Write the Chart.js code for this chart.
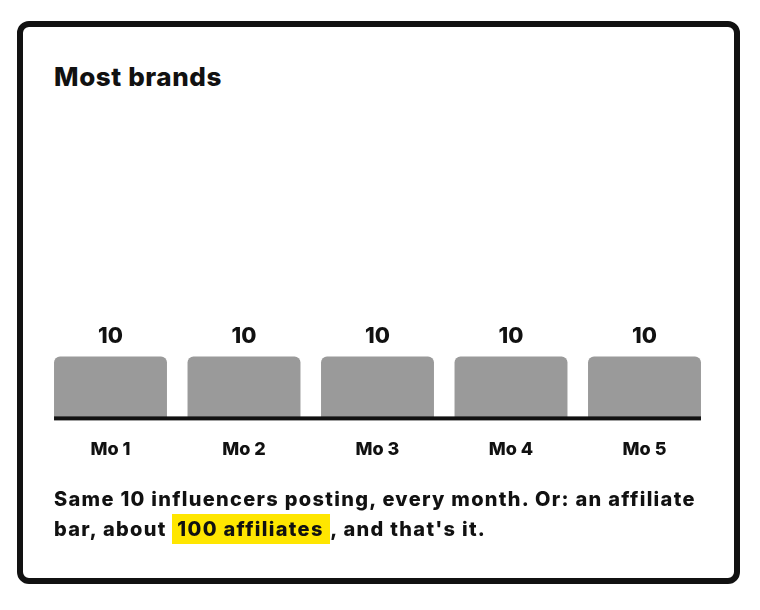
<!DOCTYPE html>
<html>
<head>
<meta charset="utf-8">
<script src="https://cdn.jsdelivr.net/npm/chart.js@4.4.0/dist/chart.umd.min.js"></script>
<style>
  html, body { margin: 0; padding: 0; background: #fff; }
  body { width: 760px; height: 610px; position: relative; overflow: hidden;
    font-family: "Inter", "Noto Sans", sans-serif; color: #111; }
  .card { position: absolute; left: 17px; top: 21px; width: 723px; height: 563px;
    box-sizing: border-box; border: 6px solid #111; border-radius: 12px; }
  .title { position: absolute; left: 54px; top: 62px; margin: 0;
    font-size: 26px; font-weight: 800; line-height: 30px; letter-spacing: 0.6px; }
  .chart-box { position: absolute; left: 0; top: 87px; width: 760px; height: 404px; }
  .caption { position: absolute; left: 54px; top: 484px; margin: 0; white-space: nowrap;
    font-size: 20px; font-weight: 800; line-height: 30px; letter-spacing: 1.3px; }
  .hl { background: #ffe600; padding: 3px 1px 3px 5px; }
</style>
</head>
<body>
<div class="card"></div>
<h2 class="title">Most brands</h2>
<div class="chart-box"><canvas id="chart-bar"></canvas></div>
<p class="caption">Same 10 influencers posting, every month. Or: an affiliate<br>bar, about <span class="hl">100 affiliates </span>, and that's it.</p>
<script>
  const months = ["Mo 1", "Mo 2", "Mo 3", "Mo 4", "Mo 5"];
  const influencers = [10, 10, 10, 10, 10];
  const yMax = 50;

  const FONT = "Inter, 'Noto Sans', sans-serif";

  // value labels above bars + short baseline under the bars
  const barDecor = {
    id: "barDecor",
    afterDatasetsDraw(chart) {
      const ctx = chart.ctx;
      const bars = chart.getDatasetMeta(0).data;
      const values = chart.data.datasets[0].data;
      ctx.save();
      ctx.fillStyle = "#111";
      ctx.font = "800 22px " + FONT;
      ctx.textAlign = "center";
      ctx.textBaseline = "bottom";
      bars.forEach((bar, i) => {
        ctx.fillText(String(values[i]), bar.x, bar.y - 9);
      });
      const first = bars[0];
      const last = bars[bars.length - 1];
      const y = chart.scales.y.getPixelForValue(0);
      ctx.fillStyle = "#111";
      ctx.fillRect(first.x - first.width / 2, y - 1, (last.x + last.width / 2) - (first.x - first.width / 2), 4);
      ctx.restore();
    },
  };

  new Chart(document.getElementById("chart-bar"), {
    type: "bar",
    data: {
      labels: months,
      datasets: [
        {
          data: influencers,
          backgroundColor: "#9a9a9a",
          borderRadius: { topLeft: 6, topRight: 6, bottomLeft: 0, bottomRight: 0 },
          borderSkipped: false,
          barPercentage: 1,
          categoryPercentage: 0.846,
        },
      ],
    },
    options: {
      responsive: true,
      maintainAspectRatio: false,
      animation: false,
      layout: { padding: { left: 43.75, right: 48.75, top: 26, bottom: 10 } },
      plugins: {
        legend: { display: false },
        tooltip: { enabled: false },
      },
      scales: {
        x: {
          grid: { display: false, drawTicks: false },
          border: { display: false },
          ticks: { color: "#111", padding: 21, font: { family: FONT, size: 18, weight: "800" } },
        },
        y: {
          display: false,
          min: 0,
          max: yMax,
        },
      },
    },
    plugins: [barDecor],
  });
</script>
</body>
</html>
